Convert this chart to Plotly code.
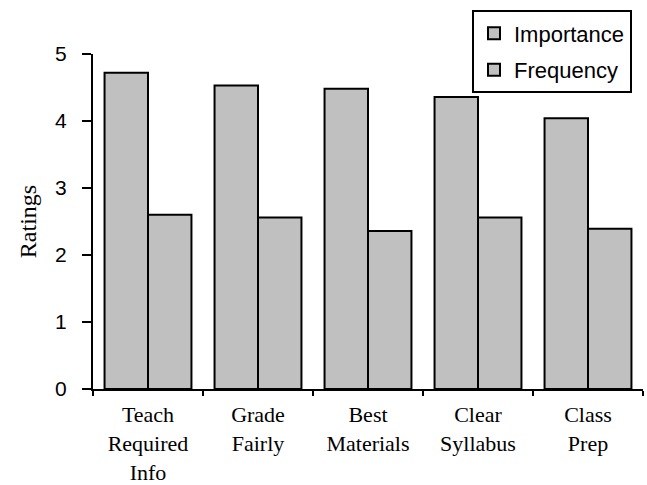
import plotly.graph_objects as go

# Survey ratings by teaching behaviour
categories = ["Teach<br>Required<br>Info", "Grade<br>Fairly", "Best<br>Materials",
              "Clear<br>Syllabus", "Class<br>Prep"]
importance = [4.72, 4.53, 4.48, 4.36, 4.04]
frequency = [2.60, 2.56, 2.36, 2.56, 2.39]
y_ticks = [0, 1, 2, 3, 4, 5]

bar_fill = "#C0C0C0"
outline = dict(color="black", width=2)

fig = go.Figure()
fig.add_trace(go.Bar(name="Importance", x=categories, y=importance,
                     marker=dict(color=bar_fill, line=outline), legendgroup="a"))
fig.add_trace(go.Bar(name="Frequency", x=categories, y=frequency,
                     marker=dict(color=bar_fill, line=outline), legendgroup="b"))

fig.update_layout(
    width=647, height=485,
    margin=dict(l=93, r=4, t=54, b=96),
    paper_bgcolor="white", plot_bgcolor="white",
    barmode="group", bargap=0.21, bargroupgap=0,
    showlegend=True,
    legend=dict(
        x=0.98, y=1.13, xanchor="right", yanchor="top",
        bgcolor="white", bordercolor="black", borderwidth=2,
        font=dict(family="Liberation Sans, Arial", size=22, color="black"),
        traceorder="grouped", tracegroupgap=5, itemwidth=30,
    ),
    font=dict(family="Liberation Sans, Arial", color="black"),
)

fig.update_yaxes(
    range=[0, 5], tickvals=y_ticks, showgrid=False, zeroline=False,
    showline=True, linecolor="black", linewidth=2, automargin=False,
    ticks="outside", ticklen=9, tickwidth=2, tickcolor="black",
    tickfont=dict(family="Liberation Sans, Arial", size=21, color="black"),
    ticklabelstandoff=11,
    title=dict(text="Ratings", standoff=12,
               font=dict(family="Liberation Serif, Times New Roman", size=24, color="black")),
)

fig.update_xaxes(
    showgrid=False, showline=True, linecolor="black", linewidth=2, automargin=False,
    ticks="outside", tickson="boundaries", ticklen=5, tickwidth=2, tickcolor="black",
    tickfont=dict(family="Liberation Serif, Times New Roman", size=22, color="black"),
    ticklabelstandoff=5,
)

fig.write_html("out.html")
